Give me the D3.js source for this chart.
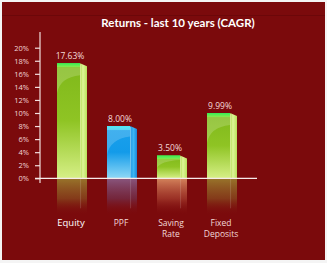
<!DOCTYPE html>
<html>
<head>
<meta charset="utf-8">
<script src="https://cdn.jsdelivr.net/npm/d3@7"></script>
<style>
  body { margin: 0; background: #f4f4f4; }
  svg { display: block; }
</style>
</head>
<body>
<div id="chart"></div>
<script>
const categories = ["Equity", "PPF", "Saving Rate", "Fixed Deposits"]
const returns = [17.63, 8.00, 3.50, 9.99]
const valueLabels = ["17.63%", "8.00%", "3.50%", "9.99%"]
const barKinds = ["green", "blue", "green", "green"]
const reflectKinds = ["olive", "purple", "orange", "olive"]
const yTicks = [0, 2, 4, 6, 8, 10, 12, 14, 16, 18, 20]

const width = 327, height = 263

const svg = d3.select("#chart").append("svg")
  .attr("width", width)
  .attr("height", height)

const defs = svg.append("defs")

function linGrad(id, stops, vertical) {
  const g = defs.append("linearGradient").attr("id", id)
    .attr("x1", 0).attr("y1", 0)
    .attr("x2", vertical ? 0 : 1).attr("y2", vertical ? 1 : 0)
  stops.forEach(s => g.append("stop")
    .attr("offset", s[0]).attr("stop-color", s[1])
    .attr("stop-opacity", s[2] == null ? 1 : s[2]))
}

// front faces
linGrad("front-green", [[0, "#7fb81a"], [0.5, "#8fc424"], [1, "#d6ef86"]], true)
linGrad("front-blue", [[0, "#1aa0ec"], [0.5, "#139be9"], [1, "#8fd8f6"]], true)
linGrad("side-green", [[0, "#a6d544"], [0.4, "#e0f49a"], [1, "#b9e05a"]], false)
linGrad("side-blue", [[0, "#1a8fe0"], [0.5, "#3cb6f2"], [1, "#1c86d8"]], false)
linGrad("cap-green", [[0, "#31f058"], [1, "#8ee84a"]], true)
linGrad("cap-blue", [[0, "#52ecf4"], [1, "#5fd2f4"]], true)
// reflections
linGrad("ref-olive", [[0, "#9a7a2c", 0.95], [0.55, "#8a5a22", 0.6], [1, "#7b0a0c", 0]], true)
linGrad("ref-purple", [[0, "#8a5a84", 0.95], [0.55, "#70385a", 0.6], [1, "#7b0a0c", 0]], true)
linGrad("ref-orange", [[0, "#d98a60", 0.95], [0.55, "#b04a36", 0.6], [1, "#7b0a0c", 0]], true)

// background panel
svg.append("rect")
  .attr("x", 2).attr("y", 2)
  .attr("width", width - 4).attr("height", height - 5)
  .attr("fill", "#7b0a0c")

svg.append("line")
  .attr("x1", 2).attr("x2", width - 2)
  .attr("y1", 15.5).attr("y2", 15.5)
  .attr("stroke", "#6c0709").attr("stroke-width", 1)

svg.append("text")
  .attr("x", 178).attr("y", 27)
  .attr("text-anchor", "middle")
  .attr("fill", "#ffffff")
  .style("font-family", "Lato, 'Open Sans', sans-serif")
  .style("font-weight", "bold")
  .style("font-size", "11.5px")
  .text("Returns - last 10 years (CAGR)")

const y = d3.scaleLinear().domain([0, 20]).range([178.3, 47.7])
const x = d3.scaleBand().domain(categories).range([57, 237]).paddingInner(0.4).paddingOuter(0)

const frontW = x.bandwidth() * 0.77
const sideW = x.bandwidth() - frontW

// y axis
const yAxis = d3.axisLeft(y)
  .tickValues(yTicks)
  .tickFormat(d => d + "%")
  .tickSize(5)
  .tickPadding(6)

const ax = svg.append("g")
  .attr("transform", "translate(40,0)")
  .call(yAxis)
ax.select(".domain").remove()
ax.selectAll(".tick line").attr("stroke", "#f2dede").attr("stroke-width", 1.2)
ax.selectAll(".tick text")
  .attr("fill", "#f2d6d6")
  .style("font-family", "'Open Sans', sans-serif")
  .style("font-size", "7.5px")

svg.append("line")
  .attr("x1", 40).attr("x2", 40)
  .attr("y1", 32).attr("y2", 183)
  .attr("stroke", "#f2dede").attr("stroke-width", 1.2)

// reflections
const bars = categories.map((c, i) => ({ cat: c, v: returns[i], label: valueLabels[i], kind: barKinds[i], ref: reflectKinds[i] }))

svg.append("g").selectAll("rect")
  .data(bars)
  .enter().append("rect")
  .attr("x", d => x(d.cat))
  .attr("y", y(0))
  .attr("width", x.bandwidth())
  .attr("height", 37)
  .attr("fill", d => "url(#ref-" + d.ref + ")")

svg.append("g").selectAll("line")
  .data(bars)
  .enter().append("line")
  .attr("x1", d => x(d.cat) + frontW + 0.5)
  .attr("x2", d => x(d.cat) + frontW + 0.5)
  .attr("y1", y(0)).attr("y2", y(0) + 30)
  .attr("stroke", "#ffffff").attr("stroke-opacity", 0.15)

// bars
const g = svg.append("g").selectAll("g")
  .data(bars)
  .enter().append("g")

g.append("rect")
  .attr("x", d => x(d.cat))
  .attr("y", d => y(d.v))
  .attr("width", frontW)
  .attr("height", d => y(0) - y(d.v))
  .attr("fill", d => "url(#front-" + d.kind + ")")

g.append("path")
  .attr("d", d => {
    const x0 = x(d.cat) + frontW, t = y(d.v)
    return "M" + x0 + "," + t + "L" + (x0 + sideW) + "," + (t + 3) + "L" + (x0 + sideW) + "," + y(0) + "L" + x0 + "," + y(0) + "Z"
  })
  .attr("fill", d => "url(#side-" + d.kind + ")")

// gloss
g.append("path")
  .attr("d", d => {
    const x0 = x(d.cat), t = y(d.v), h = y(0) - t
    const yl = t + Math.min(h * 0.55, 30)
    return "M" + x0 + "," + (t + 4) + "L" + (x0 + frontW) + "," + (t + 4) +
      "L" + (x0 + frontW) + "," + (t + Math.min(h * 0.2, 12)) +
      "Q" + (x0 + 3) + "," + (t + Math.min(h * 0.25, 14)) + " " + x0 + "," + yl + "Z"
  })
  .attr("fill", "#ffffff").attr("fill-opacity", 0.18)

g.append("rect")
  .attr("x", d => x(d.cat))
  .attr("y", d => y(d.v))
  .attr("width", frontW)
  .attr("height", 4)
  .attr("fill", d => "url(#cap-" + d.kind + ")")

g.append("line")
  .attr("x1", d => x(d.cat) + frontW + 0.5)
  .attr("x2", d => x(d.cat) + frontW + 0.5)
  .attr("y1", d => y(d.v) + 1).attr("y2", y(0))
  .attr("stroke", d => d.kind === "blue" ? "#9fe4fa" : "#eefbb8")
  .attr("stroke-opacity", 0.7)

g.append("text")
  .attr("x", d => x(d.cat) + x.bandwidth() / 2 - 2)
  .attr("y", d => y(d.v) - 4)
  .attr("text-anchor", "middle")
  .attr("fill", "#f4dada")
  .style("font-family", "'Open Sans', sans-serif")
  .style("font-size", "8.5px")
  .text(d => d.label)

// baseline
svg.append("line")
  .attr("x1", 35).attr("x2", 257)
  .attr("y1", y(0)).attr("y2", y(0))
  .attr("stroke", "#f6eaea").attr("stroke-width", 1.2)

// category labels
const labs = svg.append("g").selectAll("text")
  .data(bars)
  .enter().append("text")
  .attr("x", d => x(d.cat) + x.bandwidth() / 2 - 1)
  .attr("y", 226)
  .attr("text-anchor", "middle")
  .attr("fill", (d, i) => i === 0 ? "#ffffff" : "#f2d8d8")
  .style("font-family", "'Open Sans', sans-serif")
  .style("font-size", (d, i) => i === 0 ? "9.5px" : "8.5px")

labs.each(function (d) {
  const words = d.cat === "Fixed Deposits" ? ["Fixed", "Deposits"] : d.cat.split(" ")
  const t = d3.select(this)
  words.forEach((w, k) => t.append("tspan")
    .attr("x", x(d.cat) + x.bandwidth() / 2 - 1)
    .attr("dy", k === 0 ? 0 : 10.5)
    .text(w))
})
</script>
</body>
</html>
